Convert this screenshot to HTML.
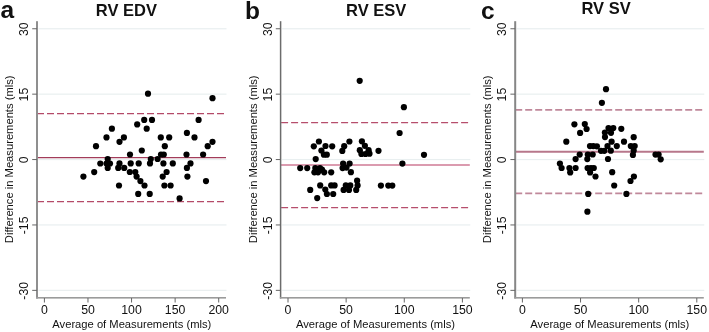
<!DOCTYPE html>
<html><head><meta charset="utf-8"><style>
html,body{margin:0;padding:0;background:#fff;}
body{width:709px;height:332px;overflow:hidden;}
svg{display:block;will-change:transform;}
text{font-family:"Liberation Sans", sans-serif;fill:#111;}
</style></head><body>
<svg width="709" height="332" viewBox="0 0 709 332">

<rect x="38.50" y="28.15" width="188.00" height="1.2" fill="#e9eff0"/>
<rect x="38.50" y="93.55" width="188.00" height="1.2" fill="#e9eff0"/>
<rect x="38.50" y="158.95" width="188.00" height="1.2" fill="#e9eff0"/>
<rect x="38.50" y="224.35" width="188.00" height="1.2" fill="#e9eff0"/>
<rect x="38.50" y="289.75" width="188.00" height="1.2" fill="#e9eff0"/>
<line x1="37.00" y1="113.5" x2="224.50" y2="113.5" stroke="#b44a68" stroke-width="1.25" stroke-dasharray="7 3"/>
<line x1="37.00" y1="201.5" x2="224.50" y2="201.5" stroke="#b44a68" stroke-width="1.25" stroke-dasharray="7 3"/>
<line x1="37.00" y1="157.6" x2="226.00" y2="157.6" stroke="#a23c5a" stroke-width="1.35"/>
<rect x="36.00" y="21.2" width="2.0" height="277.30" fill="#8f8f8f"/>
<rect x="36.00" y="297.0" width="190.00" height="1.6" fill="#9b9b9b"/>
<rect x="32.20" y="28.25" width="4.8" height="1" fill="#666"/>
<text transform="translate(28.00,29.15) rotate(-90)" text-anchor="middle" font-size="12.3">30</text>
<rect x="32.20" y="93.65" width="4.8" height="1" fill="#666"/>
<text transform="translate(28.00,94.55) rotate(-90)" text-anchor="middle" font-size="12.3">15</text>
<rect x="32.20" y="159.05" width="4.8" height="1" fill="#666"/>
<text transform="translate(28.00,159.95) rotate(-90)" text-anchor="middle" font-size="12.3">0</text>
<rect x="32.20" y="224.45" width="4.8" height="1" fill="#666"/>
<text transform="translate(28.00,225.35) rotate(-90)" text-anchor="middle" font-size="12.3">-15</text>
<rect x="32.20" y="289.85" width="4.8" height="1" fill="#666"/>
<text transform="translate(28.00,290.75) rotate(-90)" text-anchor="middle" font-size="12.3">-30</text>
<text transform="translate(13.20,159.3) rotate(-90)" text-anchor="middle" font-size="11.2">Difference in Measurements (mls)</text>
<rect x="43.90" y="298" width="1" height="4.5" fill="#666"/>
<text x="44.40" y="314.3" text-anchor="middle" font-size="12.3">0</text>
<rect x="87.47" y="298" width="1" height="4.5" fill="#666"/>
<text x="87.97" y="314.3" text-anchor="middle" font-size="12.3">50</text>
<rect x="131.05" y="298" width="1" height="4.5" fill="#666"/>
<text x="131.55" y="314.3" text-anchor="middle" font-size="12.3">100</text>
<rect x="174.62" y="298" width="1" height="4.5" fill="#666"/>
<text x="175.12" y="314.3" text-anchor="middle" font-size="12.3">150</text>
<rect x="218.20" y="298" width="1" height="4.5" fill="#666"/>
<text x="218.70" y="314.3" text-anchor="middle" font-size="12.3">200</text>
<text x="131.80" y="327.6" text-anchor="middle" font-size="11.2">Average of Measurements (mls)</text>
<circle cx="148.0" cy="93.7" r="3.1" fill="#000"/>
<circle cx="212.5" cy="98.2" r="3.1" fill="#000"/>
<circle cx="144.2" cy="119.9" r="3.1" fill="#000"/>
<circle cx="152.0" cy="119.9" r="3.1" fill="#000"/>
<circle cx="198.6" cy="119.9" r="3.1" fill="#000"/>
<circle cx="137.2" cy="124.4" r="3.1" fill="#000"/>
<circle cx="146.7" cy="128.7" r="3.1" fill="#000"/>
<circle cx="111.9" cy="128.7" r="3.1" fill="#000"/>
<circle cx="186.9" cy="132.9" r="3.1" fill="#000"/>
<circle cx="106.5" cy="137.4" r="3.1" fill="#000"/>
<circle cx="123.9" cy="137.4" r="3.1" fill="#000"/>
<circle cx="160.8" cy="137.4" r="3.1" fill="#000"/>
<circle cx="169.2" cy="137.4" r="3.1" fill="#000"/>
<circle cx="194.5" cy="137.4" r="3.1" fill="#000"/>
<circle cx="119.5" cy="141.8" r="3.1" fill="#000"/>
<circle cx="212.5" cy="141.8" r="3.1" fill="#000"/>
<circle cx="96.0" cy="146.2" r="3.1" fill="#000"/>
<circle cx="164.8" cy="146.2" r="3.1" fill="#000"/>
<circle cx="207.7" cy="146.2" r="3.1" fill="#000"/>
<circle cx="141.8" cy="150.5" r="3.1" fill="#000"/>
<circle cx="130.0" cy="154.5" r="3.1" fill="#000"/>
<circle cx="161.0" cy="154.5" r="3.1" fill="#000"/>
<circle cx="163.8" cy="154.5" r="3.1" fill="#000"/>
<circle cx="186.5" cy="154.5" r="3.1" fill="#000"/>
<circle cx="203.1" cy="154.5" r="3.1" fill="#000"/>
<circle cx="107.7" cy="159.0" r="3.1" fill="#000"/>
<circle cx="150.8" cy="159.0" r="3.1" fill="#000"/>
<circle cx="157.6" cy="159.0" r="3.1" fill="#000"/>
<circle cx="100.3" cy="163.5" r="3.1" fill="#000"/>
<circle cx="106.5" cy="163.5" r="3.1" fill="#000"/>
<circle cx="110.0" cy="163.5" r="3.1" fill="#000"/>
<circle cx="119.5" cy="163.4" r="3.1" fill="#000"/>
<circle cx="130.7" cy="163.4" r="3.1" fill="#000"/>
<circle cx="138.7" cy="163.4" r="3.1" fill="#000"/>
<circle cx="150.0" cy="163.4" r="3.1" fill="#000"/>
<circle cx="163.4" cy="163.4" r="3.1" fill="#000"/>
<circle cx="172.8" cy="163.4" r="3.1" fill="#000"/>
<circle cx="190.5" cy="163.4" r="3.1" fill="#000"/>
<circle cx="107.7" cy="168.0" r="3.1" fill="#000"/>
<circle cx="118.2" cy="167.9" r="3.1" fill="#000"/>
<circle cx="124.2" cy="167.9" r="3.1" fill="#000"/>
<circle cx="186.9" cy="167.9" r="3.1" fill="#000"/>
<circle cx="94.2" cy="172.1" r="3.1" fill="#000"/>
<circle cx="129.8" cy="172.0" r="3.1" fill="#000"/>
<circle cx="135.3" cy="172.0" r="3.1" fill="#000"/>
<circle cx="166.6" cy="172.0" r="3.1" fill="#000"/>
<circle cx="83.4" cy="176.6" r="3.1" fill="#000"/>
<circle cx="136.6" cy="176.6" r="3.1" fill="#000"/>
<circle cx="162.7" cy="176.6" r="3.1" fill="#000"/>
<circle cx="187.4" cy="176.6" r="3.1" fill="#000"/>
<circle cx="140.4" cy="181.1" r="3.1" fill="#000"/>
<circle cx="206.0" cy="181.1" r="3.1" fill="#000"/>
<circle cx="119.0" cy="185.5" r="3.1" fill="#000"/>
<circle cx="144.5" cy="185.5" r="3.1" fill="#000"/>
<circle cx="164.4" cy="185.5" r="3.1" fill="#000"/>
<circle cx="170.6" cy="185.5" r="3.1" fill="#000"/>
<circle cx="138.2" cy="193.9" r="3.1" fill="#000"/>
<circle cx="149.7" cy="193.9" r="3.1" fill="#000"/>
<circle cx="179.6" cy="198.4" r="3.1" fill="#000"/>
<text x="0.6" y="18.1" font-size="24.5" font-weight="bold" fill="#000">a</text>
<text x="126.4" y="15.6" text-anchor="middle" font-size="16.5" font-weight="bold" fill="#000">RV EDV</text>
<rect x="282.10" y="28.15" width="188.20" height="1.2" fill="#e9eff0"/>
<rect x="282.10" y="93.55" width="188.20" height="1.2" fill="#e9eff0"/>
<rect x="282.10" y="158.95" width="188.20" height="1.2" fill="#e9eff0"/>
<rect x="282.10" y="224.35" width="188.20" height="1.2" fill="#e9eff0"/>
<rect x="282.10" y="289.75" width="188.20" height="1.2" fill="#e9eff0"/>
<line x1="281.10" y1="122.5" x2="468.30" y2="122.5" stroke="#b64e6c" stroke-width="1.25" stroke-dasharray="7 3"/>
<line x1="281.10" y1="207.5" x2="468.30" y2="207.5" stroke="#b64e6c" stroke-width="1.25" stroke-dasharray="7 3"/>
<line x1="280.60" y1="165.0" x2="469.80" y2="165.0" stroke="#cf7a95" stroke-width="1.6"/>
<rect x="279.85" y="21.2" width="1.5" height="277.30" fill="#6c6c6c"/>
<rect x="279.85" y="297.0" width="189.95" height="1.6" fill="#9b9b9b"/>
<rect x="275.80" y="28.25" width="4.8" height="1" fill="#666"/>
<text transform="translate(271.60,29.15) rotate(-90)" text-anchor="middle" font-size="12.3">30</text>
<rect x="275.80" y="93.65" width="4.8" height="1" fill="#666"/>
<text transform="translate(271.60,94.55) rotate(-90)" text-anchor="middle" font-size="12.3">15</text>
<rect x="275.80" y="159.05" width="4.8" height="1" fill="#666"/>
<text transform="translate(271.60,159.95) rotate(-90)" text-anchor="middle" font-size="12.3">0</text>
<rect x="275.80" y="224.45" width="4.8" height="1" fill="#666"/>
<text transform="translate(271.60,225.35) rotate(-90)" text-anchor="middle" font-size="12.3">-15</text>
<rect x="275.80" y="289.85" width="4.8" height="1" fill="#666"/>
<text transform="translate(271.60,290.75) rotate(-90)" text-anchor="middle" font-size="12.3">-30</text>
<text transform="translate(256.80,159.3) rotate(-90)" text-anchor="middle" font-size="11.2">Difference in Measurements (mls)</text>
<rect x="287.50" y="298" width="1" height="4.5" fill="#666"/>
<text x="288.00" y="314.3" text-anchor="middle" font-size="12.3">0</text>
<rect x="345.63" y="298" width="1" height="4.5" fill="#666"/>
<text x="346.13" y="314.3" text-anchor="middle" font-size="12.3">50</text>
<rect x="403.77" y="298" width="1" height="4.5" fill="#666"/>
<text x="404.27" y="314.3" text-anchor="middle" font-size="12.3">100</text>
<rect x="461.90" y="298" width="1" height="4.5" fill="#666"/>
<text x="462.40" y="314.3" text-anchor="middle" font-size="12.3">150</text>
<text x="375.50" y="327.6" text-anchor="middle" font-size="11.2">Average of Measurements (mls)</text>
<circle cx="359.7" cy="80.8" r="3.1" fill="#000"/>
<circle cx="403.9" cy="107.2" r="3.1" fill="#000"/>
<circle cx="399.6" cy="133.0" r="3.1" fill="#000"/>
<circle cx="318.9" cy="141.5" r="3.1" fill="#000"/>
<circle cx="349.4" cy="141.5" r="3.1" fill="#000"/>
<circle cx="361.9" cy="141.3" r="3.1" fill="#000"/>
<circle cx="313.8" cy="146.3" r="3.1" fill="#000"/>
<circle cx="325.5" cy="146.0" r="3.1" fill="#000"/>
<circle cx="332.2" cy="146.3" r="3.1" fill="#000"/>
<circle cx="344.2" cy="146.2" r="3.1" fill="#000"/>
<circle cx="364.9" cy="145.8" r="3.1" fill="#000"/>
<circle cx="321.4" cy="150.5" r="3.1" fill="#000"/>
<circle cx="342.3" cy="150.9" r="3.1" fill="#000"/>
<circle cx="359.8" cy="150.2" r="3.1" fill="#000"/>
<circle cx="368.6" cy="150.2" r="3.1" fill="#000"/>
<circle cx="378.5" cy="150.8" r="3.1" fill="#000"/>
<circle cx="323.9" cy="154.7" r="3.1" fill="#000"/>
<circle cx="326.8" cy="154.7" r="3.1" fill="#000"/>
<circle cx="361.4" cy="154.0" r="3.1" fill="#000"/>
<circle cx="365.5" cy="154.0" r="3.1" fill="#000"/>
<circle cx="369.5" cy="153.7" r="3.1" fill="#000"/>
<circle cx="424.0" cy="154.8" r="3.1" fill="#000"/>
<circle cx="315.7" cy="159.1" r="3.1" fill="#000"/>
<circle cx="343.1" cy="163.6" r="3.1" fill="#000"/>
<circle cx="349.6" cy="163.6" r="3.1" fill="#000"/>
<circle cx="402.4" cy="163.6" r="3.1" fill="#000"/>
<circle cx="300.2" cy="168.1" r="3.1" fill="#000"/>
<circle cx="307.2" cy="168.1" r="3.1" fill="#000"/>
<circle cx="315.3" cy="168.0" r="3.1" fill="#000"/>
<circle cx="320.0" cy="168.0" r="3.1" fill="#000"/>
<circle cx="342.6" cy="168.1" r="3.1" fill="#000"/>
<circle cx="346.5" cy="167.6" r="3.1" fill="#000"/>
<circle cx="314.4" cy="172.3" r="3.1" fill="#000"/>
<circle cx="318.0" cy="172.3" r="3.1" fill="#000"/>
<circle cx="324.2" cy="172.3" r="3.1" fill="#000"/>
<circle cx="331.2" cy="172.3" r="3.1" fill="#000"/>
<circle cx="350.9" cy="172.2" r="3.1" fill="#000"/>
<circle cx="322.0" cy="169.5" r="3.1" fill="#000"/>
<circle cx="357.1" cy="180.7" r="3.1" fill="#000"/>
<circle cx="320.2" cy="185.4" r="3.1" fill="#000"/>
<circle cx="331.2" cy="185.4" r="3.1" fill="#000"/>
<circle cx="334.6" cy="185.4" r="3.1" fill="#000"/>
<circle cx="345.8" cy="185.4" r="3.1" fill="#000"/>
<circle cx="350.3" cy="185.4" r="3.1" fill="#000"/>
<circle cx="357.6" cy="185.4" r="3.1" fill="#000"/>
<circle cx="380.9" cy="185.6" r="3.1" fill="#000"/>
<circle cx="388.3" cy="185.6" r="3.1" fill="#000"/>
<circle cx="392.3" cy="185.6" r="3.1" fill="#000"/>
<circle cx="310.2" cy="189.9" r="3.1" fill="#000"/>
<circle cx="325.3" cy="189.6" r="3.1" fill="#000"/>
<circle cx="343.6" cy="189.9" r="3.1" fill="#000"/>
<circle cx="349.0" cy="189.9" r="3.1" fill="#000"/>
<circle cx="356.2" cy="189.9" r="3.1" fill="#000"/>
<circle cx="326.9" cy="194.0" r="3.1" fill="#000"/>
<circle cx="333.2" cy="194.0" r="3.1" fill="#000"/>
<circle cx="317.2" cy="198.1" r="3.1" fill="#000"/>
<text x="245.0" y="18.5" font-size="24.5" font-weight="bold" fill="#000">b</text>
<text x="376.2" y="16.1" text-anchor="middle" font-size="16.5" font-weight="bold" fill="#000">RV ESV</text>
<rect x="516.70" y="28.15" width="187.60" height="1.2" fill="#e9eff0"/>
<rect x="516.70" y="93.55" width="187.60" height="1.2" fill="#e9eff0"/>
<rect x="516.70" y="158.95" width="187.60" height="1.2" fill="#e9eff0"/>
<rect x="516.70" y="224.35" width="187.60" height="1.2" fill="#e9eff0"/>
<rect x="516.70" y="289.75" width="187.60" height="1.2" fill="#e9eff0"/>
<line x1="515.20" y1="109.9" x2="702.30" y2="109.9" stroke="#c0889a" stroke-width="1.9" stroke-dasharray="7 3"/>
<line x1="515.20" y1="193.4" x2="702.30" y2="193.4" stroke="#c0889a" stroke-width="1.9" stroke-dasharray="7 3"/>
<line x1="515.20" y1="151.7" x2="703.80" y2="151.7" stroke="#b7778b" stroke-width="1.9"/>
<rect x="514.20" y="21.2" width="2.0" height="277.30" fill="#868686"/>
<rect x="514.20" y="297.0" width="189.60" height="1.6" fill="#9b9b9b"/>
<rect x="510.40" y="28.25" width="4.8" height="1" fill="#666"/>
<text transform="translate(506.20,29.15) rotate(-90)" text-anchor="middle" font-size="12.3">30</text>
<rect x="510.40" y="93.65" width="4.8" height="1" fill="#666"/>
<text transform="translate(506.20,94.55) rotate(-90)" text-anchor="middle" font-size="12.3">15</text>
<rect x="510.40" y="159.05" width="4.8" height="1" fill="#666"/>
<text transform="translate(506.20,159.95) rotate(-90)" text-anchor="middle" font-size="12.3">0</text>
<rect x="510.40" y="224.45" width="4.8" height="1" fill="#666"/>
<text transform="translate(506.20,225.35) rotate(-90)" text-anchor="middle" font-size="12.3">-15</text>
<rect x="510.40" y="289.85" width="4.8" height="1" fill="#666"/>
<text transform="translate(506.20,290.75) rotate(-90)" text-anchor="middle" font-size="12.3">-30</text>
<text transform="translate(491.40,159.3) rotate(-90)" text-anchor="middle" font-size="11.2">Difference in Measurements (mls)</text>
<rect x="521.90" y="298" width="1" height="4.5" fill="#666"/>
<text x="522.40" y="314.3" text-anchor="middle" font-size="12.3">0</text>
<rect x="580.03" y="298" width="1" height="4.5" fill="#666"/>
<text x="580.53" y="314.3" text-anchor="middle" font-size="12.3">50</text>
<rect x="638.17" y="298" width="1" height="4.5" fill="#666"/>
<text x="638.67" y="314.3" text-anchor="middle" font-size="12.3">100</text>
<rect x="696.30" y="298" width="1" height="4.5" fill="#666"/>
<text x="696.80" y="314.3" text-anchor="middle" font-size="12.3">150</text>
<text x="609.80" y="327.6" text-anchor="middle" font-size="11.2">Average of Measurements (mls)</text>
<circle cx="606.0" cy="89.2" r="3.1" fill="#000"/>
<circle cx="601.9" cy="102.8" r="3.1" fill="#000"/>
<circle cx="574.4" cy="124.3" r="3.1" fill="#000"/>
<circle cx="584.8" cy="124.1" r="3.1" fill="#000"/>
<circle cx="586.6" cy="129.0" r="3.1" fill="#000"/>
<circle cx="580.1" cy="132.9" r="3.1" fill="#000"/>
<circle cx="608.5" cy="128.1" r="3.1" fill="#000"/>
<circle cx="613.3" cy="128.1" r="3.1" fill="#000"/>
<circle cx="621.3" cy="128.8" r="3.1" fill="#000"/>
<circle cx="604.9" cy="132.6" r="3.1" fill="#000"/>
<circle cx="611.0" cy="132.8" r="3.1" fill="#000"/>
<circle cx="605.0" cy="137.1" r="3.1" fill="#000"/>
<circle cx="633.7" cy="137.2" r="3.1" fill="#000"/>
<circle cx="566.3" cy="141.7" r="3.1" fill="#000"/>
<circle cx="611.6" cy="141.7" r="3.1" fill="#000"/>
<circle cx="624.0" cy="141.7" r="3.1" fill="#000"/>
<circle cx="590.0" cy="146.1" r="3.1" fill="#000"/>
<circle cx="593.3" cy="146.1" r="3.1" fill="#000"/>
<circle cx="596.9" cy="146.3" r="3.1" fill="#000"/>
<circle cx="607.5" cy="146.1" r="3.1" fill="#000"/>
<circle cx="616.8" cy="146.1" r="3.1" fill="#000"/>
<circle cx="630.8" cy="146.1" r="3.1" fill="#000"/>
<circle cx="634.7" cy="146.1" r="3.1" fill="#000"/>
<circle cx="601.0" cy="150.8" r="3.1" fill="#000"/>
<circle cx="604.3" cy="150.8" r="3.1" fill="#000"/>
<circle cx="610.8" cy="150.7" r="3.1" fill="#000"/>
<circle cx="633.7" cy="150.6" r="3.1" fill="#000"/>
<circle cx="579.7" cy="154.6" r="3.1" fill="#000"/>
<circle cx="587.8" cy="154.5" r="3.1" fill="#000"/>
<circle cx="592.7" cy="154.5" r="3.1" fill="#000"/>
<circle cx="632.9" cy="154.9" r="3.1" fill="#000"/>
<circle cx="655.5" cy="154.6" r="3.1" fill="#000"/>
<circle cx="658.6" cy="154.6" r="3.1" fill="#000"/>
<circle cx="575.6" cy="159.1" r="3.1" fill="#000"/>
<circle cx="587.3" cy="159.1" r="3.1" fill="#000"/>
<circle cx="608.0" cy="159.0" r="3.1" fill="#000"/>
<circle cx="660.7" cy="159.3" r="3.1" fill="#000"/>
<circle cx="559.9" cy="163.6" r="3.1" fill="#000"/>
<circle cx="561.6" cy="168.0" r="3.1" fill="#000"/>
<circle cx="569.4" cy="168.0" r="3.1" fill="#000"/>
<circle cx="575.6" cy="168.0" r="3.1" fill="#000"/>
<circle cx="587.6" cy="168.0" r="3.1" fill="#000"/>
<circle cx="591.0" cy="168.0" r="3.1" fill="#000"/>
<circle cx="593.8" cy="168.0" r="3.1" fill="#000"/>
<circle cx="570.2" cy="172.4" r="3.1" fill="#000"/>
<circle cx="590.1" cy="172.4" r="3.1" fill="#000"/>
<circle cx="612.2" cy="172.2" r="3.1" fill="#000"/>
<circle cx="595.5" cy="176.5" r="3.1" fill="#000"/>
<circle cx="633.9" cy="176.5" r="3.1" fill="#000"/>
<circle cx="630.5" cy="181.0" r="3.1" fill="#000"/>
<circle cx="614.2" cy="185.5" r="3.1" fill="#000"/>
<circle cx="588.2" cy="193.9" r="3.1" fill="#000"/>
<circle cx="626.4" cy="193.9" r="3.1" fill="#000"/>
<circle cx="587.4" cy="211.7" r="3.1" fill="#000"/>
<text x="481.0" y="18.5" font-size="24.5" font-weight="bold" fill="#000">c</text>
<text x="606.1" y="13.6" text-anchor="middle" font-size="16.5" font-weight="bold" fill="#000">RV SV</text>
</svg></body></html>
